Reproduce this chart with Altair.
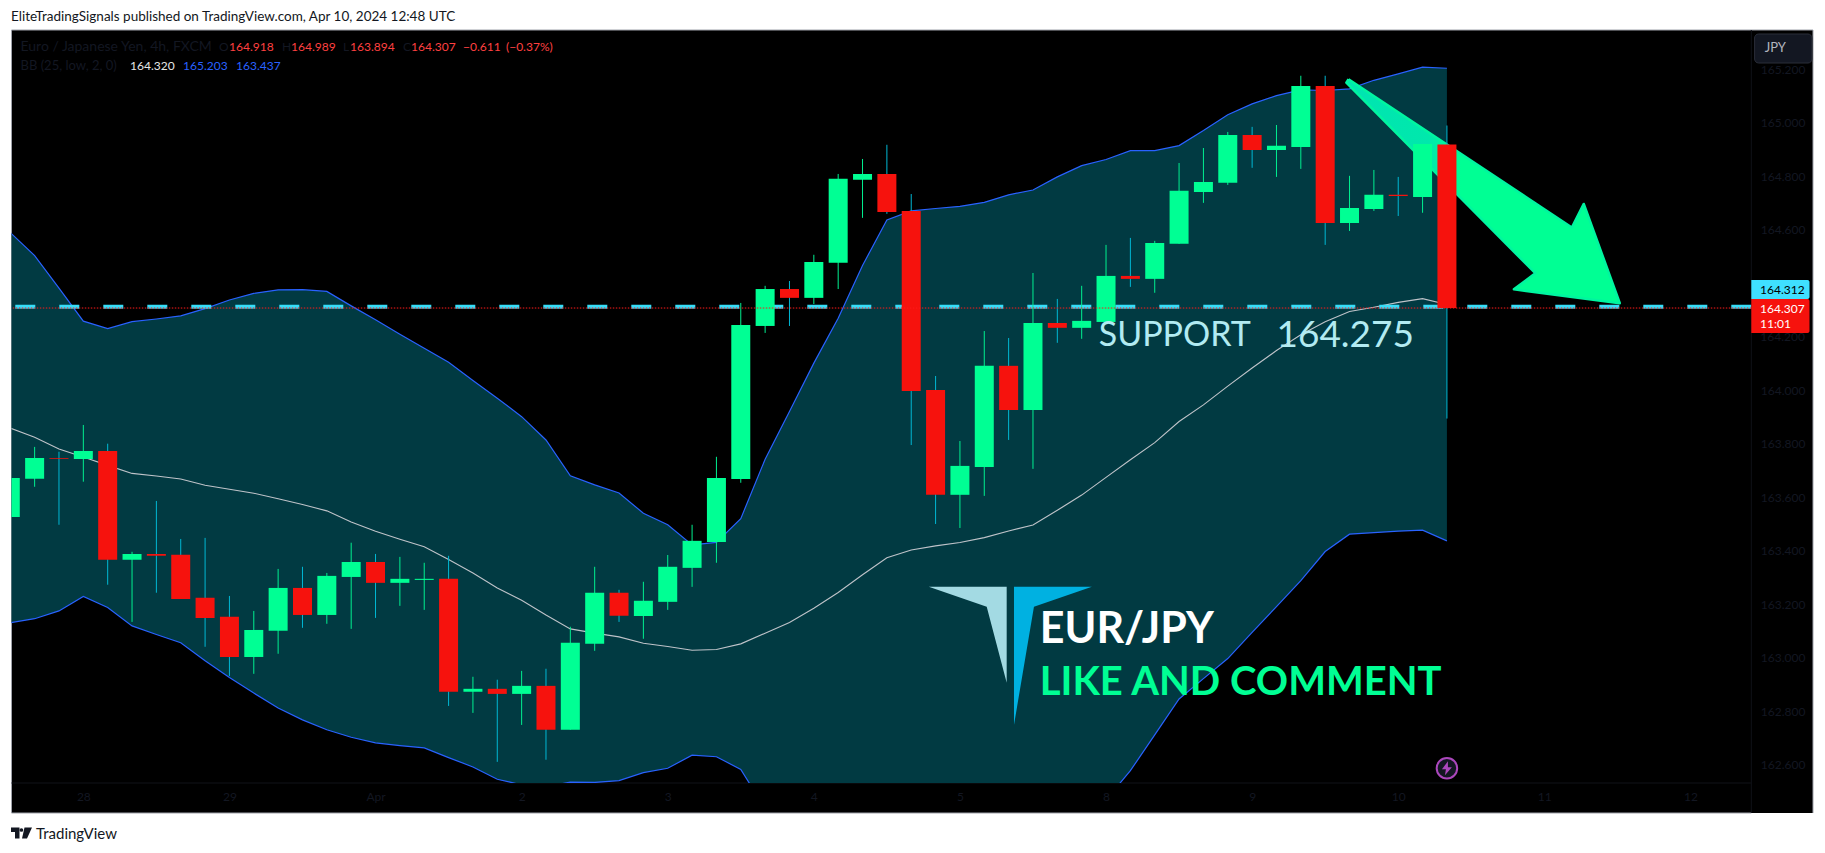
import altair as alt
import pandas as pd

FONT = "Lato"
OX, OY = 11.5, 30.0          # page position of the plot's top-left corner
W, H = 1739.8, 753
UP, DOWN = "#00FF94", "#F6120D"
UP_WICK, DOWN_WICK = "#00F090", "#00B8D4"

opens = [163.526,163.669,163.746,163.743,163.773,163.366,163.388,163.385,163.224,163.153,
         163.003,163.101,163.261,163.160,163.302,163.358,163.280,163.291,163.295,162.873,
         162.884,162.865,162.895,162.731,163.052,163.243,163.156,163.209,163.336,163.433,
         163.668,164.240,164.378,164.345,164.476,164.786,164.808,164.670,164.001,163.609,
         163.713,164.091,163.926,164.251,164.233,164.255,164.427,164.416,164.547,164.741,
         164.775,164.954,164.898,164.909,165.137,164.625,164.677,164.730,164.722,164.918]
closes = [163.672,163.747,163.743,163.773,163.366,163.388,163.381,163.220,163.149,163.003,
          163.104,163.261,163.160,163.306,163.358,163.280,163.295,163.295,162.873,162.884,
          162.865,162.895,162.731,163.056,163.243,163.157,163.213,163.340,163.437,163.672,
          164.244,164.378,164.345,164.479,164.790,164.808,164.666,163.997,163.609,163.717,
          164.091,163.926,164.251,164.233,164.259,164.427,164.416,164.550,164.745,164.778,
          164.954,164.898,164.913,165.137,164.625,164.681,164.730,164.726,164.920,164.307]
highs = [163.700,163.788,163.770,163.870,163.800,163.396,163.586,163.444,163.448,163.231,
         163.175,163.332,163.340,163.317,163.430,163.388,163.377,163.355,163.381,162.929,
         162.918,162.951,162.959,163.116,163.340,163.254,163.284,163.384,163.497,163.751,
         164.326,164.390,164.408,164.506,164.808,164.864,164.917,164.733,164.053,163.810,
         164.221,164.195,164.438,164.341,164.390,164.543,164.569,164.558,164.849,164.905,
         164.965,164.984,164.991,165.175,165.175,164.801,164.823,164.797,164.920,164.989]
lows = [163.500,163.639,163.497,163.658,163.273,163.134,163.243,163.220,163.041,162.932,
        162.940,163.015,163.112,163.127,163.108,163.149,163.194,163.179,162.820,162.794,
        162.611,162.749,162.619,162.731,163.026,163.134,163.071,163.179,163.265,163.355,
        163.654,164.214,164.240,164.322,164.378,164.644,164.659,163.795,163.500,163.485,
        163.605,163.814,163.706,164.177,164.192,164.255,164.386,164.364,164.547,164.700,
        164.767,164.831,164.797,164.827,164.543,164.595,164.670,164.651,164.663,163.894]

bb_upper = [164.589,164.503,164.381,164.258,164.230,164.256,164.266,164.278,164.305,164.337,
            164.362,164.375,164.376,164.369,164.315,164.263,164.209,164.157,164.104,164.036,
            163.970,163.901,163.814,163.680,163.646,163.616,163.540,163.497,163.422,163.431,
            163.520,163.742,163.920,164.101,164.269,164.466,164.636,164.670,164.679,164.687,
            164.702,164.730,164.748,164.797,164.839,164.862,164.895,164.895,164.914,164.970,
            165.029,165.070,165.101,165.122,165.120,165.126,165.158,165.182,165.207,165.203]
bb_mid = [163.858,163.824,163.780,163.750,163.719,163.689,163.679,163.668,163.645,163.630,
          163.615,163.594,163.573,163.549,163.507,163.473,163.443,163.415,163.367,163.317,
          163.261,163.215,163.160,163.108,163.092,163.078,163.054,163.042,163.028,163.031,
          163.052,163.092,163.132,163.185,163.244,163.310,163.374,163.403,163.418,163.431,
          163.449,163.474,163.496,163.551,163.608,163.674,163.740,163.804,163.883,163.945,
          164.015,164.083,164.148,164.207,164.256,164.294,164.310,164.328,164.342,164.320]
bb_lower = [163.131,163.146,163.175,163.229,163.188,163.119,163.087,163.056,162.989,162.926,
            162.868,162.812,162.768,162.731,162.703,162.682,162.672,162.663,162.627,162.592,
            162.546,162.525,162.519,162.535,162.534,162.541,162.571,162.587,162.636,162.630,
            162.583,162.436,162.340,162.260,162.200,162.150,162.120,162.110,162.120,162.140,
            162.170,162.210,162.250,162.300,162.360,162.469,162.578,162.712,162.846,162.922,
            162.997,163.095,163.191,163.288,163.397,163.462,163.468,163.473,163.477,163.437]

x_tick_pos = [3, 9, 15, 21, 27, 33, 39, 45, 51, 57, 63, 69]
x_tick_labels = ["28", "29", "Apr", "2", "3", "4", "5", "8", "9", "10", "11", "12"]
y_ticks = [162.6, 162.8, 163.0, 163.2, 163.4, 163.6, 163.8, 164.0, 164.6, 164.8, 165.0, 165.2]
y_tick_under_tag = [164.2]

support_level = 164.312
last_close = 164.307

arrow_idx = [54.96, 64.13, 64.62, 66.10, 61.75, 62.63, 54.87]
arrow_price = [165.162, 164.608, 164.696, 164.325, 164.377, 164.437, 165.149]
logo_light_idx = [37.72, 40.92, 40.92, 40.10]
logo_light_price = [163.265, 163.265, 162.907, 163.191]
logo_blue_idx = [41.22, 44.42, 42.04, 41.22]
logo_blue_price = [163.265, 163.265, 163.191, 162.749]

X_DOMAIN = [0.05, 71.5]
Y_DOMAIN = [162.532, 165.346]

idx = list(range(len(opens)))
candles = pd.DataFrame({"idx": idx, "open": opens, "close": closes, "high": highs, "low": lows})
candles["up"] = candles["close"] >= candles["open"]
bands = pd.DataFrame({"idx": idx, "upper": bb_upper, "mid": bb_mid, "lower": bb_lower})

xs = alt.Scale(domain=X_DOMAIN, nice=False, zero=False, padding=0)
ys = alt.Scale(domain=Y_DOMAIN, nice=False, zero=False)
label_expr = "[" + ",".join(f"'{t}'" for t in x_tick_labels) + "][(datum.value-3)/6]"
x_axis = alt.Axis(values=x_tick_pos, labelExpr=label_expr, domain=False, ticks=False, grid=False, title=None,
                  labelColor="#131722", labelFont=FONT, labelFontSize=12, labelPadding=8, zindex=1, labelFlush=False,
                  labelOverlap=False)
y_axis = alt.Axis(values=y_ticks, format=".3f", orient="right", domain=False, ticks=False, grid=False, title=None,
                  labelColor="#131722", labelFont=FONT, labelFontSize=12, labelPadding=9, zindex=1, labelOverlap=False)
X = alt.X("idx:Q", scale=xs, axis=x_axis)
XP = alt.X("idx:Q", scale=xs, axis=None)

ONE = pd.DataFrame({"a": [0]})

def rect(x, x2, y, y2, fill, **kw):
    """Chrome panel, given in page pixels."""
    return alt.Chart(ONE).mark_rect(fill=fill, **kw).encode(
        x=alt.value(x - OX), x2=alt.value(x2 - OX), y=alt.value(y - OY), y2=alt.value(y2 - OY))

def hline(x, x2, y, color):
    return alt.Chart(ONE).mark_rule(color=color, strokeWidth=1).encode(
        x=alt.value(x - OX), x2=alt.value(x2 - OX), y=alt.value(y - OY))

def vline(x, y, y2, color):
    return alt.Chart(ONE).mark_rule(color=color, strokeWidth=1).encode(
        x=alt.value(x - OX), y=alt.value(y - OY), y2=alt.value(y2 - OY))

def label(text, x, y, color, size=12, align="left", weight="normal", font=FONT):
    return alt.Chart(ONE).mark_text(align=align, baseline="middle", color=color, fontSize=size,
                                    fontWeight=weight, font=font).encode(
        x=alt.value(x - OX), y=alt.value(y - OY), text=alt.value(text))

def polygon(xv, yv, fill, **kw):
    df = pd.DataFrame({"idx": xv + xv[:1], "price": yv + yv[:1], "o": list(range(len(xv) + 1))})
    return alt.Chart(df).mark_line(fill=fill, **kw).encode(
        x=XP, y=alt.Y("price:Q", scale=ys, axis=None), order="o:Q")

RIGHT, BOTTOM = 1813, 813
GREY = "#9fa2aa"
frame = rect(OX, RIGHT, OY, BOTTOM, "#000000")
borders = [hline(OX, RIGHT, OY, GREY), hline(OX, OX + W, BOTTOM, GREY), vline(OX, OY, BOTTOM, GREY), vline(RIGHT, OY, BOTTOM, GREY)]
sep1 = hline(OX, OX + W, OY + H, "#101218")
sep2 = vline(OX + W, OY, BOTTOM, "#101218")

band = alt.Chart(bands).mark_area(color="#013A42", clip=True).encode(
    x=X, y=alt.Y("lower:Q", scale=ys, axis=y_axis), y2="upper:Q")
line_up = alt.Chart(bands).mark_line(color="#2962FF", strokeWidth=1.2, clip=True).encode(
    x=XP, y=alt.Y("upper:Q", scale=ys, axis=None))
line_lo = alt.Chart(bands).mark_line(color="#2962FF", strokeWidth=1.2, clip=True).encode(
    x=XP, y=alt.Y("lower:Q", scale=ys, axis=None))
line_mid = alt.Chart(bands).mark_line(color="#BFC3C9", strokeWidth=1.1, clip=True).encode(
    x=XP, y=alt.Y("mid:Q", scale=ys, axis=None))

support = alt.Chart(pd.DataFrame({"p": [support_level]})).mark_rule(
    color="#36DDF8", strokeWidth=4, strokeDash=[20, 24]).encode(
    y=alt.Y("p:Q", scale=ys, axis=None))
last = alt.Chart(pd.DataFrame({"p": [last_close]})).mark_rule(
    color="#FF1A1A", strokeWidth=1, strokeDash=[1.5, 1.5]).encode(
    y=alt.Y("p:Q", scale=ys, axis=None))

arrow_fill = alt.Gradient(gradient="linear", x1=0, x2=1, y1=0, y2=0, stops=[
    alt.GradientStop(color="#00E4B2", offset=0),
    alt.GradientStop(color="#00E8AC", offset=0.3),
    alt.GradientStop(color="#00FF94", offset=0.42),
    alt.GradientStop(color="#00FF94", offset=1)])
arrow = polygon(arrow_idx, arrow_price, arrow_fill, stroke="#00F5A0", strokeWidth=2.5, strokeJoin="round")
logo_a = polygon(logo_light_idx, logo_light_price, "#A3DAE3", strokeWidth=0)
logo_b = polygon(logo_blue_idx, logo_blue_price, "#00B1E1", strokeWidth=0)

def candle_layers(subset, wick_color, body_color):
    wick = alt.Chart(subset).mark_rule(strokeWidth=1, color=wick_color, clip=True).encode(
        x=XP, y=alt.Y("low:Q", scale=ys, axis=None), y2="high:Q")
    body = alt.Chart(subset).mark_bar(size=19, color=body_color, clip=True).encode(
        x=XP, y=alt.Y("open:Q", scale=ys, axis=None), y2="close:Q")
    return [wick, body]

up_layers = candle_layers(candles[candles["up"]], UP_WICK, UP)
down_layers = candle_layers(candles[~candles["up"]], DOWN_WICK, DOWN)

under_tag = alt.Chart(pd.DataFrame({"p": y_tick_under_tag, "t": [f"{v:.3f}" for v in y_tick_under_tag]})).mark_text(
    align="left", baseline="middle", color="#131722", font=FONT, fontSize=12).encode(
    x=alt.value(W + 9), y=alt.Y("p:Q", scale=ys, axis=None), text="t:N")

ann_idx = [44.70, 52.0, 42.28, 42.28]
ann_price = [164.201, 164.201, 163.102, 162.904]
ann_text = ["SUPPORT", "164.275", "EUR/JPY", "LIKE AND COMMENT"]
ann_size = [34, 37, 43, 40]
ann_weight = ["normal", "normal", "bold", "bold"]
ann_color = ["#B2EBF2", "#B2EBF2", "#FFFFFF", "#00FF94"]
ann_layers = [
    alt.Chart(pd.DataFrame({"idx": [ann_idx[i]], "price": [ann_price[i]], "t": [ann_text[i]]})).mark_text(
        align="left", baseline="middle", font=FONT, fontSize=ann_size[i], fontWeight=ann_weight[i], color=ann_color[i]
    ).encode(x=XP, y=alt.Y("price:Q", scale=ys, axis=None), text="t:N")
    for i in range(len(ann_text))
]

icon_df = pd.DataFrame({"idx": [59.0], "price": [162.587]})
icon_c = alt.Chart(icon_df).mark_point(shape="circle", size=420, filled=True, fill="#131722", stroke="#AB47BC", strokeWidth=2, opacity=1).encode(
    x=XP, y=alt.Y("price:Q", scale=ys, axis=None))
icon_b = alt.Chart(icon_df).mark_point(
    shape="M1,-7 L-5,1 L-1,1 L-2,7 L5,-1 L1,-1 Z", size=4, filled=True, fill="#AB47BC", opacity=1).encode(
    x=XP, y=alt.Y("price:Q", scale=ys, axis=None))

RED_TXT = "#FF4040"
DARK = "#131722"
BLUE = "#2962FF"
texts = [
    label("EliteTradingSignals published on TradingView.com, Apr 10, 2024 12:48 UTC", 11, 16.7, "#131722", 13.5),
    label("Euro / Japanese Yen, 4h, FXCM", 20.5, 46.7, DARK, 14),
    label("O", 219, 46.7, DARK), label("164.918", 229, 46.7, RED_TXT),
    label("H", 282, 46.7, DARK), label("164.989", 291, 46.7, RED_TXT),
    label("L", 343, 46.7, DARK), label("163.894", 350, 46.7, RED_TXT),
    label("C", 403, 46.7, DARK), label("164.307", 411, 46.7, RED_TXT),
    label("\u22120.611", 463, 46.7, RED_TXT), label("(\u22120.37%)", 506, 46.7, RED_TXT),
    label("BB (25, low, 2, 0)", 20.5, 65.7, DARK, 13),
    label("164.320", 130, 65.7, "#E6E6E6"), label("165.203", 183, 65.7, BLUE), label("163.437", 236, 65.7, BLUE),
    label("JPY", 1764.7, 48, "#B2B5BE", 13),
    label("164.312", 1760, 289.7, "#000000"),
    label("164.307", 1760, 308.7, "#FFFFFF"),
    label("11:01", 1760, 323.7, "#FFFFFF"),
    label("TradingView", 36, 834, "#131722", 15),
]
button = rect(1754.6, 1812, 34, 63, "#131722", stroke="#2A2E39", strokeWidth=1, cornerRadius=4)
tag_c = rect(OX + W, 1809.5, 280, 299, "#3FE0FF", cornerRadiusTopRight=2, cornerRadiusBottomRight=2)
tag_r = rect(OX + W, 1809.5, 299, 333, "#F6120D", cornerRadiusTopRight=2, cornerRadiusBottomRight=2)
tv_logo = alt.Chart(ONE).mark_point(
    shape="M-10.5,-5.5 L-2,-5.5 L-2,5.5 L-6.5,5.5 L-6.5,-1 L-10.5,-1 Z "
          "M3,-5.5 L10.5,-5.5 L5.5,5.5 L0.5,5.5 Z",
    size=4, filled=True, fill="#131722", opacity=1).encode(x=alt.value(21.5 - OX), y=alt.value(833 - OY))
tv_dot = alt.Chart(ONE).mark_point(shape="circle", size=14, filled=True, fill="#131722", opacity=1).encode(
    x=alt.value(21.4 - OX), y=alt.value(830 - OY))

chart = alt.layer(
    frame, *borders, sep1, sep2, band, line_up, line_lo, line_mid, support, arrow, logo_a, logo_b,
    *up_layers, *down_layers, last, under_tag, *ann_layers, icon_c, icon_b,
    button, tag_c, tag_r, tv_logo, tv_dot, *texts,
).resolve_axis(x="independent", y="independent").properties(
    width=W, height=H, background="#FFFFFF",
    padding={"left": 3.5, "top": 22, "right": 65.7, "bottom": 60},
    autosize=alt.AutoSizeParams(type="none", contains="content"),
).configure_view(stroke=None)

chart.save("out.html", embed_options={"renderer": "svg", "actions": False})
